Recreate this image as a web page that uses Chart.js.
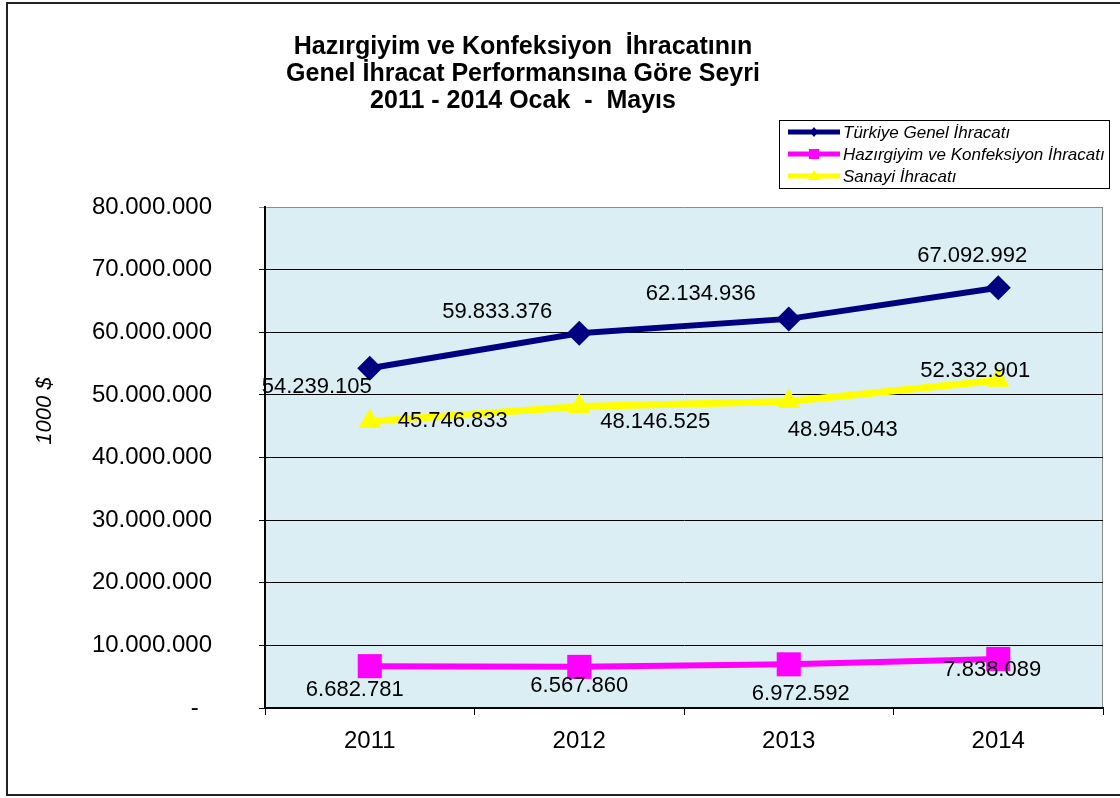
<!DOCTYPE html>
<html>
<head>
<meta charset="utf-8">
<script src="https://cdn.jsdelivr.net/npm/chart.js@4.4.0/dist/chart.umd.min.js"></script>
<style>
  html, body { margin: 0; padding: 0; background: #fff; }
  #wrap { width: 1120px; height: 798px; position: relative; }
</style>
</head>
<body>
<div id="wrap"><canvas id="c" width="1120" height="798"></canvas></div>
<script>
// ---- data ----
const categories = ['2011', '2012', '2013', '2014'];
const turkiyeGenel = [54239105, 59833376, 62134936, 67092992];
const hazirgiyim = [6682781, 6567860, 6972592, 7838089];
const sanayi = [45746833, 48146525, 48945043, 52332901];
const seriesNames = ['Türkiye Genel İhracatı', 'Hazırgiyim ve Konfeksiyon İhracatı', 'Sanayi İhracatı'];
const titleLines = ['Hazırgiyim ve Konfeksiyon  İhracatının', 'Genel İhracat Performansına Göre Seyri', '2011 - 2014 Ocak  -  Mayıs'];
const yTitle = '1000 $';
const yMin = 0, yMax = 80000000, yStep = 10000000;

// label offsets (pixels, relative to each point)
const labelOffsets = [
  [[-53, 19], [-82, -21], [-88, -25], [-26, -32]],
  [[-15, 24], [0, 19], [12, 30], [-6, 11]],
  [[83, -1], [76, 15], [54, 28], [-23, -9]]
];

const FONT = '"Liberation Sans", Arial, sans-serif';
function fmt(n) { return String(Math.round(n)).replace(/\B(?=(\d{3})+(?!\d))/g, '.'); }

const frameAndDecor = {
  id: 'decor',
  beforeDraw(chart) {
    const { ctx, chartArea: a } = chart;
    ctx.save();
    ctx.fillStyle = '#fff';
    ctx.fillRect(0, 0, chart.width, chart.height);
    ctx.fillStyle = '#DAEEF3';
    ctx.fillRect(a.left, a.top, a.right - a.left, a.bottom - a.top);
    ctx.strokeStyle = '#8c8c8c';
    ctx.lineWidth = 1;
    ctx.beginPath();
    ctx.moveTo(a.right - 0.5, a.top);
    ctx.lineTo(a.right - 0.5, a.bottom);
    ctx.stroke();
    // outer frame
    ctx.strokeStyle = '#222';
    ctx.lineWidth = 2;
    ctx.beginPath();
    ctx.moveTo(1120, 3); ctx.lineTo(7, 3); ctx.lineTo(7, 795); ctx.lineTo(1120, 795);
    ctx.stroke();
    ctx.restore();
  },
  afterDraw(chart) {
    const { ctx } = chart;
    ctx.save();
    // title
    ctx.fillStyle = '#000';
    ctx.font = 'bold 25px ' + FONT;
    ctx.textAlign = 'center';
    ctx.textBaseline = 'middle';
    titleLines.forEach((t, i) => ctx.fillText(t, 523, 47 + i * 27));
    // y axis title
    ctx.save();
    ctx.translate(45, 411);
    ctx.rotate(-Math.PI / 2);
    ctx.font = 'italic 22px ' + FONT;
    ctx.fillText(yTitle, 0, 0);
    ctx.restore();
    // legend
    ctx.strokeStyle = '#000';
    ctx.lineWidth = 1;
    ctx.strokeRect(779.5, 120.5, 330, 68);
    chart.data.datasets.forEach((ds, i) => {
      const y = 132 + i * 22;
      ctx.strokeStyle = ds.borderColor;
      ctx.lineWidth = 5;
      ctx.beginPath();
      ctx.moveTo(788, y); ctx.lineTo(840, y);
      ctx.stroke();
      ctx.fillStyle = ds.borderColor;
      ctx.beginPath();
      if (ds.pointStyle === 'rectRot') {
        ctx.moveTo(814, y - 5); ctx.lineTo(818, y); ctx.lineTo(814, y + 5); ctx.lineTo(810, y);
      } else if (ds.pointStyle === 'rect') {
        ctx.rect(809, y - 5, 10, 10);
      } else {
        ctx.moveTo(814, y - 6); ctx.lineTo(820, y + 4); ctx.lineTo(808, y + 4);
      }
      ctx.closePath();
      ctx.fill();
      ctx.fillStyle = '#000';
      ctx.font = 'italic 17px ' + FONT;
      ctx.textAlign = 'left';
      ctx.fillText(ds.label, 843, y + 1);
    });
    // data labels
    ctx.font = '22px ' + FONT;
    ctx.textAlign = 'center';
    ctx.textBaseline = 'middle';
    ctx.fillStyle = '#000';
    chart.data.datasets.forEach((ds, i) => {
      const meta = chart.getDatasetMeta(i);
      meta.data.forEach((pt, j) => {
        const off = labelOffsets[i][j];
        ctx.fillText(fmt(ds.data[j]), pt.x + off[0], pt.y + off[1]);
      });
    });
    ctx.restore();
  }
};

new Chart(document.getElementById('c'), {
  type: 'line',
  data: {
    labels: categories,
    datasets: [
      { label: seriesNames[0], data: turkiyeGenel, borderColor: '#000080', backgroundColor: '#000080',
        borderWidth: 6, pointStyle: 'rectRot', pointRadius: 12.5, pointHoverRadius: 12.5, pointBorderWidth: 0, order: 1 },
      { label: seriesNames[1], data: hazirgiyim, borderColor: '#FF00FF', backgroundColor: '#FF00FF',
        borderWidth: 6, pointStyle: 'rect', pointRadius: 17, pointHoverRadius: 17, pointBorderWidth: 0, order: 2 },
      { label: seriesNames[2], data: sanayi, borderColor: '#FFFF00', backgroundColor: '#FFFF00',
        borderWidth: 7, pointStyle: 'triangle', pointRadius: 13, pointHoverRadius: 13, pointBorderWidth: 0, order: 3 }
    ]
  },
  options: {
    responsive: false,
    animation: false,
    events: [],
    layout: { padding: { left: 0, top: 207, right: 14, bottom: 0 } },
    plugins: { legend: { display: false }, title: { display: false }, tooltip: { enabled: false } },
    elements: { line: { tension: 0 } },
    scales: {
      x: {
        offset: true,
        grid: { drawOnChartArea: false, drawTicks: true, tickLength: 7, color: '#000', offset: true },
        border: { color: '#000', width: 2 },
        ticks: { color: '#000', font: { family: FONT, size: 24 }, padding: 12, maxRotation: 0 },
        afterFit(s) { s.height = 90; }
      },
      y: {
        min: yMin, max: yMax,
        grid: { color: (c) => (c.tick && c.tick.value === yMax ? '#8c8c8c' : '#000'), lineWidth: 1, tickLength: 6, drawTicks: true },
        border: { color: '#000', width: 2 },
        ticks: { stepSize: yStep, color: '#000', font: { family: FONT, size: 24 }, padding: 47,
          callback: (v) => (v === 0 ? '-  ' : fmt(v)) },
        afterFit(s) { s.width = 265; }
      }
    }
  },
  plugins: [frameAndDecor]
});
</script>
</body>
</html>
